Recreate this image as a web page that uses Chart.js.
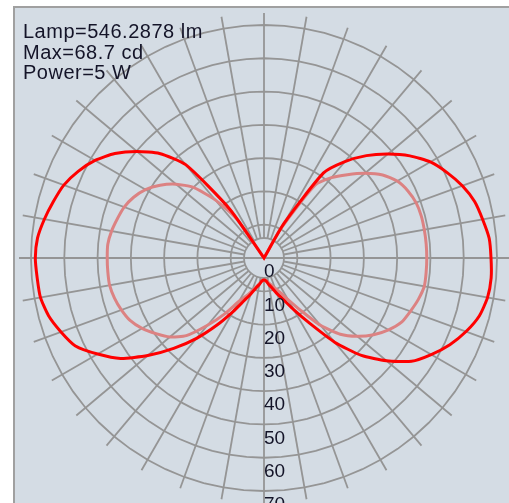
<!DOCTYPE html>
<html>
<head>
<meta charset="utf-8">
<script src="https://cdn.jsdelivr.net/npm/chart.js@4.4.0/dist/chart.umd.min.js"></script>
<style>
html, body { margin: 0; padding: 0; background: #fff; overflow: hidden; width: 509px; height: 503px; }
#panel { position: absolute; left: 13px; top: 6px; width: 500px; height: 500px; background: #d4dce4;
         border-left: 2px solid #a0a0a0; border-top: 2px solid #a0a0a0; }
#wrap { position: absolute; left: 19px; top: 13px; width: 490px; height: 490px; }
#info { position: absolute; left: 23px; top: 21px; font: 20px "Liberation Sans", Arial, sans-serif;
        line-height: 20.5px; letter-spacing: 0.5px; color: #141428; }
</style>
</head>
<body>
<div id="panel"></div>
<div id="wrap"><canvas id="polar"></canvas></div>
<div id="info"></div>
<script>
// === Data ===
// angle in degrees, clockwise from the top of the diagram
const angles = [0, 5, 10, 15, 20, 25, 30, 35, 40, 45, 50, 55, 60, 65, 70, 75, 80, 85,
                90, 95, 100, 105, 110, 115, 120, 125, 130, 135, 140, 145, 150, 155, 160, 165, 170, 175,
                180, 185, 190, 195, 200, 205, 210, 215, 220, 225, 230, 235, 240, 245, 250, 255, 260, 265,
                270, 275, 280, 285, 290, 295, 300, 305, 310, 315, 320, 325, 330, 335, 340, 345, 350, 355];

// candela, outer (bright red) curve
const outerCd = [0, 0, 0, 0, 0, 0, 12.0, 31.2, 37.8, 43.5, 48.6, 53.5, 57.7, 60.7, 63.4, 65.5, 66.7, 67.9,
                 68.2, 68.5, 68.2, 67.0, 64.6, 61.6, 58.0, 54.1, 48.0, 41.4, 33.0, 24.0, 18.0, 13.8, 11.4, 9.3, 8.1, 6.9,
                 6.6, 6.9, 8.1, 9.3, 11.4, 14.1, 18.6, 24.6, 31.5, 38.4, 45.6, 52.6, 57.7, 62.5, 64.9, 67.0, 68.2, 68.4,
                 68.7, 68.3, 67.0, 65.5, 64.0, 61.6, 58.6, 54.7, 49.8, 44.4, 36.6, 18.0, 0, 0, 0, 0, 0, 0];

// candela, inner (pale red) curve
const innerCd = [0, 0, 0, 0, 0, 0, 10.5, 26.7, 31.5, 35.4, 39.6, 43.5, 46.2, 47.7, 48.6, 48.9, 48.9, 48.9,
                 48.9, 48.9, 48.9, 48.0, 46.8, 45.6, 43.2, 40.2, 36.6, 32.4, 26.4, 19.2, 14.4, 11.4, 9.6, 8.4, 7.5, 6.9,
                 6.6, 6.9, 7.8, 9.0, 10.5, 12.6, 15.0, 20.4, 26.4, 33.0, 36.9, 39.6, 42.3, 44.4, 45.6, 46.5, 47.1, 47.1,
                 47.1, 47.1, 46.5, 45.6, 44.7, 43.2, 41.1, 38.1, 34.5, 30.0, 22.8, 14.4, 0, 0, 0, 0, 0, 0];

const ringValues = [0, 10, 20, 30, 40, 50, 60, 70];
const infoLines = ['Lamp=546.2878 lm', 'Max=68.7 cd', 'Power=5 W'];

// === Styles ===
const panelBg = '#d4dce4';
const gridColor = '#959595';
const gridWidth = 1.8;
const hubRadius = 20;

document.getElementById('info').innerHTML = infoLines.map(t => `<div>${t}</div>`).join('');

// hub circle in the middle and the ring labels down the lower axis
const polarExtras = {
    id: 'polarExtras',
    beforeDatasetsDraw(chart) {
        const r = chart.scales.r;
        const ctx = chart.ctx;
        ctx.save();
        ctx.beginPath();
        ctx.arc(r.xCenter, r.yCenter, hubRadius, 0, Math.PI * 2);
        ctx.fillStyle = panelBg;
        ctx.fill();
        ctx.strokeStyle = gridColor;
        ctx.lineWidth = gridWidth;
        ctx.stroke();
        ctx.beginPath();
        ctx.moveTo(r.xCenter - hubRadius, r.yCenter);
        ctx.lineTo(r.xCenter + hubRadius, r.yCenter);
        ctx.stroke();
        ctx.restore();
    },
    afterDatasetsDraw(chart) {
        const r = chart.scales.r;
        const ctx = chart.ctx;
        ctx.save();
        ctx.font = '19px "Liberation Sans", Arial, sans-serif';
        ctx.fillStyle = '#141428';
        ctx.textAlign = 'left';
        ctx.textBaseline = 'middle';
        ringValues.forEach(v => {
            const d = r.getDistanceFromCenterForValue(v);
            ctx.fillText(String(v), r.xCenter, r.yCenter + d + 14);
        });
        ctx.restore();
    }
};

new Chart(document.getElementById('polar'), {
    type: 'radar',
    data: {
        labels: angles,
        datasets: [
            {
                label: 'C0-C180',
                data: outerCd,
                borderColor: '#ff0000',
                borderWidth: 3,
                fill: false,
                pointRadius: 0
            },
            {
                label: 'C90-C270',
                data: innerCd,
                borderColor: '#dc8282',
                borderWidth: 3,
                fill: false,
                pointRadius: 0
            }
        ]
    },
    options: {
        responsive: true,
        maintainAspectRatio: false,
        animation: false,
        events: [],
        layout: { padding: 0 },
        elements: { line: { tension: 0.2 } },
        plugins: {
            legend: { display: false },
            tooltip: { enabled: false }
        },
        scales: {
            r: {
                min: 0,
                max: 73.6,
                startAngle: 0,
                ticks: { display: false, stepSize: 10 },
                pointLabels: { display: false },
                grid: {
                    circular: false,
                    color: gridColor,
                    lineWidth: ctx => (ctx.tick && ctx.tick.value % 10 === 0) ? gridWidth : 0
                },
                angleLines: {
                    color: gridColor,
                    lineWidth: ctx => (ctx.index % 2 === 0) ? gridWidth : 0
                }
            }
        }
    },
    plugins: [polarExtras]
});
</script>
</body>
</html>
